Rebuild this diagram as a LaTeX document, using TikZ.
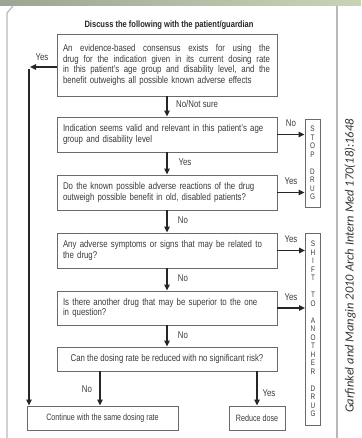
\documentclass[tikz,border=0pt]{standalone}
\usepackage{fontspec}
\setmainfont{Liberation Sans}[FakeStretch=0.8]
\newfontfamily\narrowfont{Liberation Sans}[FakeStretch=0.82]
\newfontfamily\endfont{Liberation Sans}[FakeStretch=0.78]
\newfontfamily\citefont{Carlito}
\usetikzlibrary{arrows.meta,calc}
\definecolor{txt}{HTML}{3A3A3A}
\definecolor{boxc}{HTML}{6A6A6A}
\definecolor{framec}{HTML}{B8B8B8}
\definecolor{bandl}{HTML}{9DA493}
\definecolor{bandr}{HTML}{C9D4B6}
\newcommand\jline[1]{\leavevmode\hbox to 207pt{\spaceskip=0.25em plus 1fil\relax #1}}
\begin{document}
\begin{tikzpicture}[x=1pt,y=-1pt,
  box/.style={draw=boxc, line width=0.9pt, text width=208pt, inner xsep=6pt, inner ysep=2pt,
    align=left, font=\fontsize{9.8}{10.6}\selectfont, text=txt},
  onebox/.style={draw=boxc, line width=0.9pt, minimum width=220pt, minimum height=24pt, inner sep=1pt,
    font=\fontsize{9.8}{10.6}\selectfont, text=txt},
  endbox/.style={draw=boxc, line width=0.9pt, minimum height=24pt, inner sep=2pt,
    font=\endfont\fontsize{9.2}{10.6}\selectfont, text=txt},
  vbox/.style={draw=boxc, line width=0.9pt, minimum width=15pt, inner sep=0pt,
    font=\fontsize{8}{8.5}\selectfont, align=center, text=txt},
  arr/.style={line width=1.4pt, draw=black!85, -{Triangle[length=6pt,width=5.5pt]}},
  lbl/.style={font=\fontsize{9.8}{10}\selectfont, text=txt, inner sep=0pt}]
\useasboundingbox (0,0) rectangle (361,438);
% top band and frame
\shade[left color=bandl, right color=bandr] (0,0) rectangle (361,6);
\draw[framec, line width=1.2pt] (7,438) -- (7,13) -- (13,6);
\draw[framec, line width=1.2pt] (337,6) -- (337,438);
% title
\node[font=\narrowfont\bfseries\fontsize{9.2}{10}\selectfont, text=black!85] (title) at (169,25)
  {Discuss the following with the patient/guardian};
% decision boxes
\node[box, minimum height=62pt] (b1) at (167,65)
  {\jline{An evidence-based consensus exists for using the}\\
   \jline{drug for the indication given in its current dosing rate}\\
   \jline{in this patient's age group and disability level, and the}\\
   benefit outweighs all possible known adverse effects};
\node[box, minimum height=35pt] (b2) at (167,134.5)
  {Indication seems valid and relevant in this patient's age\\ group and disability level};
\node[box, minimum height=35pt] (b3) at (167,192.5)
  {Do the known possible adverse reactions of the drug\\ outweigh possible benefit in old, disabled patients?};
\node[box, minimum height=35pt] (b4) at (167,250.5)
  {Any adverse symptoms or signs that may be related to\\ the drug?};
\node[box, minimum height=34pt] (b5) at (167,308)
  {Is there another drug that may be superior to the one\\ in question?};
\node[onebox] (b6) at (167,359)
  {Can the dosing rate be reduced with no significant risk?};
% outcome boxes
\node[endbox, minimum width=151pt] (cont) at (102.5,418) {Continue with the same dosing rate};
\node[endbox, minimum width=56pt] (red) at (257,418) {Reduce dose};
\node[vbox, minimum height=88pt] (stop) at (312.5,163)
  {S\\T\\O\\P\\[8.5pt]D\\R\\U\\G};
\node[vbox, minimum height=192pt] (shift) at (313,329)
  {S\\H\\I\\F\\T\\[8.5pt]T\\O\\[8.5pt]A\\N\\O\\T\\H\\E\\R\\[8.5pt]D\\R\\U\\G};
% citation
\node[rotate=90, font=\citefont\itshape\fontsize{12.5}{13}\selectfont, text=black!80] (cite) at (350,266)
  {Garfinkel and Mangin 2010 Arch Intern Med 170(18):1648};
% connectors
\coordinate (yesL) at (30,67);
\coordinate (vtop) at (29,69);
\coordinate (noX) at (100,0);
\draw[arr] ([yshift=-2pt]b1.west) -- (yesL);
\draw[arr] (vtop) -- (vtop |- cont.north);
\draw[arr] (b1.south) -- (b2.north);
\draw[arr] (b2.south) -- (b3.north);
\draw[arr] (b3.south) -- (b4.north);
\draw[arr] (b4.south) -- (b5.north);
\draw[arr] (b5.south) -- (b6.north);
\draw[arr] (b2.east) -- (b2.east -| stop.west);
\draw[arr] (b3.east) -- (b3.east -| stop.west);
\draw[arr] (b4.east) -- (b4.east -| shift.west);
\draw[arr] (b5.east) -- (b5.east -| shift.west);
\draw[arr] (b6.south -| noX) -- (cont.north -| noX);
\draw[arr] (b6.south -| red.north) -- (red.north);
% labels
\node[lbl] (l1) at (42,57) {Yes};
\node[lbl, anchor=west] (l2) at (176,104) {No/Not sure};
\node[lbl] (l3) at (291,123) {No};
\node[lbl] (l4) at (185,162) {Yes};
\node[lbl] (l5) at (291,181) {Yes};
\node[lbl] (l6) at (183,220) {No};
\node[lbl] (l7) at (291,239) {Yes};
\node[lbl] (l8) at (183,278) {No};
\node[lbl] (l9) at (291,297) {Yes};
\node[lbl] (l10) at (183,335) {No};
\node[lbl] (l11) at (87,389) {No};
\node[lbl] (l12) at (269,393) {Yes};
\end{tikzpicture}
\end{document}
